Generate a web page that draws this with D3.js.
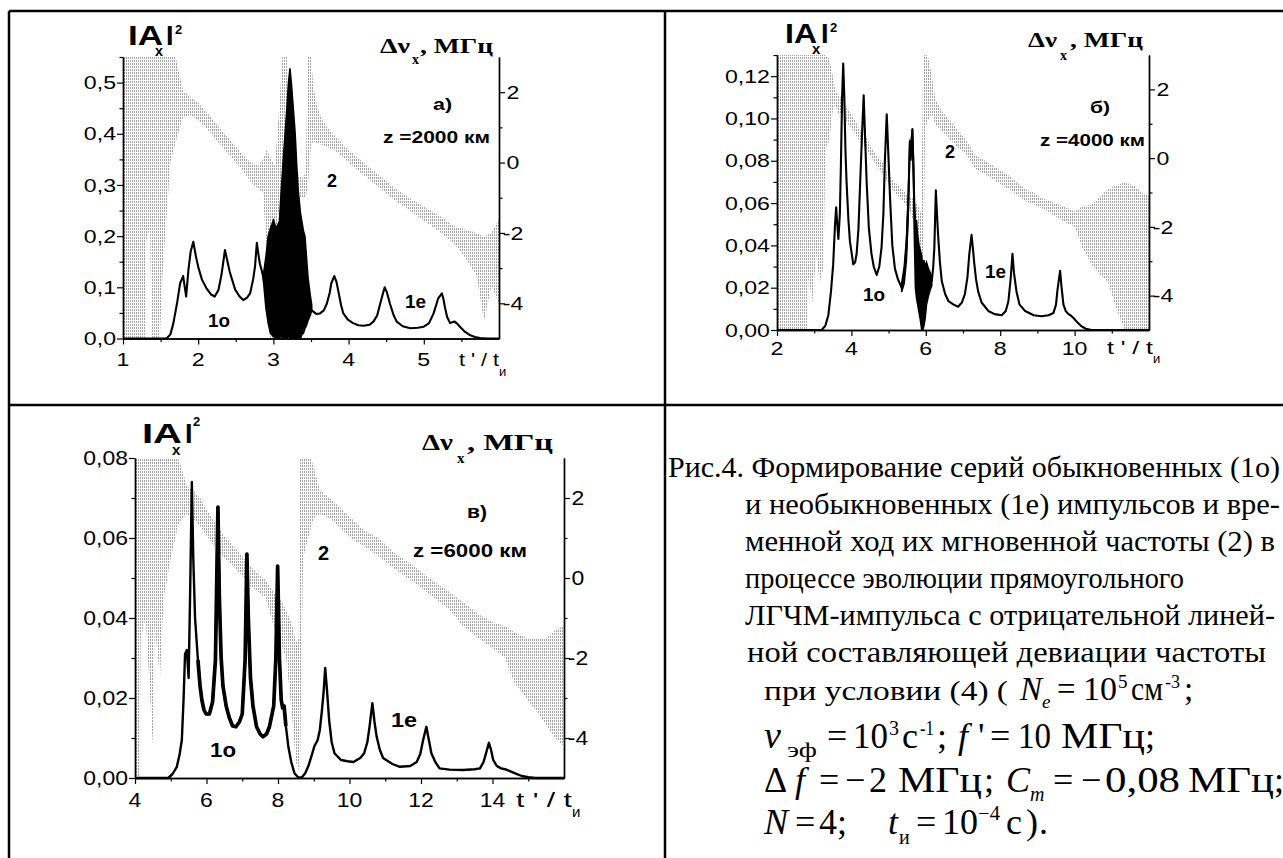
<!DOCTYPE html>
<html>
<head>
<meta charset="utf-8">
<script src="https://cdn.jsdelivr.net/npm/d3@7/dist/d3.min.js"></script>
<style>
  body { margin: 0; background: #fff; }
  svg { display: block; }
</style>
</head>
<body>
<svg id="fig" width="1283" height="858"></svg>
<script>
// |A_x|^2 curves (t'/t_и, value)
const pulseA = [
  [1.00,0],[1.58,0],[1.63,0.008],[1.67,0.03],[1.72,0.07],[1.76,0.108],[1.80,0.122],[1.84,0.082],
  [1.87,0.134],[1.90,0.17],[1.935,0.189],[1.97,0.16],[2.00,0.14],[2.05,0.115],[2.11,0.098],[2.17,0.086],
  [2.22,0.082],[2.27,0.095],[2.31,0.125],[2.356,0.173],[2.39,0.15],[2.42,0.13],[2.49,0.096],[2.55,0.082],
  [2.60,0.075],[2.65,0.08],[2.69,0.088],[2.73,0.115],[2.755,0.14],[2.78,0.187],[2.80,0.165],[2.82,0.146],
  [2.87,0.12],[2.95,0.05],[3.51,0.055],[3.57,0.048],[3.62,0.049],[3.67,0.055],[3.71,0.068],[3.75,0.09],
  [3.77,0.108],[3.81,0.122],[3.84,0.11],[3.86,0.095],[3.90,0.065],[3.93,0.049],[3.99,0.037],[4.06,0.03],
  [4.13,0.026],[4.20,0.025],[4.28,0.027],[4.33,0.033],[4.38,0.045],[4.42,0.068],[4.46,0.09],[4.48,0.10],
  [4.51,0.09],[4.55,0.068],[4.60,0.045],[4.64,0.033],[4.72,0.024],[4.82,0.02],[4.92,0.021],[5.00,0.023],
  [5.07,0.03],[5.13,0.049],[5.17,0.068],[5.19,0.078],[5.24,0.088],[5.26,0.078],[5.28,0.062],[5.31,0.042],
  [5.35,0.03],[5.38,0.032],[5.41,0.033],[5.45,0.028],[5.48,0.023],[5.54,0.014],[5.61,0.007],[5.68,0.003],
  [5.75,0.001],[5.85,0],[6.00,0]
];
// noisy stretch of curve 1 in panel а: t, low, high
const pulseBandA = [
  [2.85,0.13,0.13],[2.87,0.108,0.128],[2.90,0.06,0.16],[2.93,0.03,0.2],[2.96,0.01,0.215],[3.00,0.004,0.231],
  [3.04,0,0.215],[3.08,0,0.23],[3.10,0.005,0.28],[3.13,0,0.349],[3.16,0,0.41],[3.18,0,0.453],[3.20,0.005,0.5],
  [3.22,0,0.528],[3.24,0,0.498],[3.27,0,0.44],[3.29,0,0.40],[3.31,0,0.34],[3.33,0.002,0.29],[3.36,0,0.245],
  [3.38,0.008,0.228],[3.40,0.01,0.21],[3.42,0.02,0.2],[3.44,0.025,0.16],[3.46,0.035,0.12],[3.49,0.045,0.085],
  [3.51,0.055,0.066]
];
const pulseB = [
  [2,0],[3.2,0],[3.3,0.002],[3.38,0.007],[3.45,0.018],[3.51,0.031],[3.56,0.05],[3.59,0.058],[3.62,0.05],
  [3.65,0.043],[3.69,0.055],[3.72,0.08],[3.75,0.11],[3.78,0.126],[3.81,0.11],[3.84,0.085],[3.87,0.07],
  [3.92,0.052],[3.96,0.042],[4.05,0.031],[4.10,0.032],[4.14,0.036],[4.19,0.048],[4.23,0.067],[4.28,0.09],
  [4.33,0.111],[4.37,0.09],[4.41,0.07],[4.47,0.048],[4.54,0.036],[4.60,0.03],[4.68,0.026],[4.75,0.03],
  [4.81,0.039],[4.86,0.055],[4.90,0.08],[4.95,0.102],[5.00,0.08],[5.04,0.062],[5.10,0.04],[5.17,0.029],
  [5.25,0.024],[5.35,0.02],[5.42,0.026],[5.48,0.039],[5.53,0.06],[5.57,0.089],[5.60,0.085],[5.64,0.095],
  [5.67,0.075],[5.69,0.06],[5.75,0.03],[6.10,0.022],[6.16,0.023],[6.20,0.03],[6.23,0.039],[6.27,0.066],
  [6.30,0.055],[6.33,0.045],[6.38,0.032],[6.43,0.023],[6.52,0.017],[6.61,0.0136],[6.75,0.012],[6.87,0.011],
  [6.97,0.013],[7.05,0.017],[7.12,0.025],[7.17,0.036],[7.23,0.045],[7.27,0.038],[7.30,0.032],[7.35,0.024],
  [7.41,0.018],[7.50,0.013],[7.68,0.009],[7.85,0.0075],[8.04,0.007],[8.15,0.009],[8.22,0.0136],[8.28,0.024],
  [8.33,0.036],[8.37,0.027],[8.44,0.018],[8.52,0.012],[8.67,0.009],[8.90,0.007],[9.11,0.0065],[9.30,0.007],
  [9.43,0.008],[9.50,0.012],[9.54,0.019],[9.61,0.028],[9.65,0.02],[9.70,0.012],[9.76,0.009],[9.83,0.0076],
  [9.90,0.0068],[9.97,0.0057],[10.08,0.0035],[10.19,0.0017],[10.30,0.0006],[10.46,0],[12,0]
];
const pulseBandB = [
  [5.35,0.018,0.022],[5.42,0.022,0.03],[5.48,0.033,0.043],[5.53,0.055,0.065],[5.57,0.085,0.089],
  [5.60,0.08,0.088],[5.64,0.09,0.095],[5.67,0.07,0.08],[5.69,0.045,0.06],[5.72,0.02,0.05],[5.75,0.015,0.052],
  [5.78,0.012,0.045],[5.82,0.008,0.04],[5.85,0.005,0.038],[5.89,0,0.035],[5.92,0,0.03],[5.95,0.002,0.033],
  [5.98,0.005,0.03],[6.02,0.012,0.032],[6.07,0.016,0.029],[6.12,0.019,0.027],[6.16,0.021,0.025]
];
const pulseC = [
  [4,0],[4.93,0],[5.05,0.001],[5.17,0.0028],[5.25,0.006],[5.31,0.0095],[5.36,0.02],[5.40,0.031],[5.45,0.032],
  [5.50,0.025],[5.54,0.045],[5.59,0.074],[5.63,0.055],[5.68,0.04],[5.76,0.0295],[5.82,0.023],[5.87,0.0195],
  [5.93,0.017],[5.99,0.016],[6.08,0.016],[6.17,0.019],[6.25,0.0295],[6.32,0.0677],[6.36,0.045],[6.41,0.03],
  [6.46,0.023],[6.55,0.018],[6.64,0.015],[6.73,0.013],[6.82,0.0128],[6.92,0.014],[7.00,0.016],[7.08,0.0295],
  [7.13,0.056],[7.17,0.04],[7.23,0.025],[7.30,0.018],[7.40,0.0128],[7.50,0.011],[7.58,0.0103],[7.68,0.011],
  [7.76,0.0128],[7.88,0.018],[7.94,0.03],[7.99,0.053],[8.04,0.03],[8.09,0.0195],[8.13,0.0175],[8.17,0.018],
  [8.22,0.013],[8.29,0.0078],[8.37,0.004],[8.46,0.0012],[8.58,0],[8.68,0.0003],[8.76,0.0012],[8.85,0.003],
  [8.93,0.0053],[9.02,0.008],[9.11,0.0095],[9.17,0.012],[9.23,0.017],[9.28,0.022],[9.32,0.0275],[9.37,0.022],
  [9.43,0.0145],[9.50,0.009],[9.58,0.0062],[9.76,0.0045],[9.95,0.0042],[10.11,0.004],[10.30,0.005],
  [10.41,0.0062],[10.50,0.009],[10.56,0.0128],[10.64,0.0187],[10.70,0.014],[10.76,0.0103],[10.85,0.007],
  [10.94,0.005],[11.20,0.0035],[11.41,0.0028],[11.70,0.003],[11.88,0.004],[11.98,0.006],[12.06,0.0095],
  [12.15,0.0128],[12.22,0.0095],[12.29,0.0062],[12.40,0.004],[12.52,0.0024],[12.80,0.0021],[13.17,0.002],
  [13.50,0.0022],[13.65,0.0024],[13.75,0.004],[13.82,0.0062],[13.90,0.0088],[13.96,0.007],[14.02,0.0045],
  [14.12,0.003],[14.24,0.0024],[14.35,0.0022],[14.47,0.0018],[14.65,0.0011],[14.82,0.0005],[15.00,0.0002],
  [15.20,0],[16,0]
];

// instantaneous frequency Δν_x, MHz (curve 2): t, low, high of the noisy trace
const freqA = [
  [1.00,-5,3],[1.29,-5,3],[1.31,-2.2,3],[1.36,-1.8,3],[1.38,-5,3],[1.49,-5,3],[1.53,-3.0,3],[1.58,-1.5,3],
  [1.63,0,3],[1.70,0.6,3],[1.76,1.0,2.4],[1.80,1.3,2.05],
  [1.90,1.35,1.85],[2.00,1.2,1.7],[2.10,1.0,1.45],[2.20,0.75,1.2],[2.30,0.5,0.95],[2.40,0.25,0.7],[2.50,0,0.45],
  [2.60,-0.25,0.2],[2.70,-0.55,0],[2.80,-0.75,-0.1],[2.86,-0.85,0.1],[2.91,-2.5,0.35],[2.95,-5,0.2],
  [3.02,-5,-0.1],[3.06,-1.5,1.0],[3.12,-1.2,3],[3.18,-0.8,3],[3.22,-0.8,0.5],[3.30,-0.9,-0.3],
  [3.38,-1.0,-0.45],[3.43,-1.0,-0.3],[3.46,-0.6,3],[3.50,0.5,3],[3.53,0.6,2.2],[3.58,0.55,1.6],[3.65,0.5,1.2],
  [3.75,0.4,0.9],[3.85,0.3,0.7],[4.00,0,0.35],[4.20,-0.35,0],[4.40,-0.7,-0.35],[4.60,-1.05,-0.7],
  [4.80,-1.35,-1.0],[5.00,-1.65,-1.25],[5.20,-1.95,-1.5],[5.40,-2.3,-1.8],[5.55,-2.7,-1.9],[5.70,-3.2,-2.0],
  [5.80,-4.5,-2.1],[5.90,-3.5,-2.0],[6.00,-4.0,-1.6]
];
const freqB = [
  [2.0,-5,3],[2.8,-5,3],[2.85,-3.5,3],[2.95,-4.2,3],[3.05,-2.8,3],[3.15,-3.6,3],[3.25,-3.2,3],[3.3,0.3,3],
  [3.4,0.5,2.9],[3.5,1.4,2.4],[3.56,1.55,2.0],
  [3.65,1.3,1.85],[3.74,1.3,1.75],[3.9,1.0,1.45],[4.05,0.8,1.2],[4.19,0.55,0.9],[4.4,0.25,0.6],[4.63,-0.15,0.15],
  [4.85,-0.5,-0.15],[5.08,-0.9,-0.6],[5.3,-1.15,-0.85],[5.53,-1.45,-1.1],[5.7,-1.9,-1.2],[5.8,-2.4,-1.4],
  [5.88,-3.2,-1.6],[5.93,-3.6,3],[5.98,0.8,3],[6.05,1.1,3],[6.16,1.3,2.4],[6.25,0.97,1.75],[6.43,0.8,1.36],
  [6.65,0.55,1.1],[6.87,0.3,0.8],[7.1,0.1,0.5],[7.32,-0.3,0.1],[7.55,-0.45,-0.05],[7.78,-0.6,-0.2],
  [8.0,-0.75,-0.35],[8.22,-0.9,-0.5],[8.45,-1.05,-0.7],[8.67,-1.25,-0.9],[8.9,-1.35,-1.0],[9.11,-1.45,-1.16],
  [9.35,-1.6,-1.25],[9.56,-1.74,-1.35],[9.8,-1.9,-1.45],[10.01,-2.0,-1.55],[10.2,-2.6,-1.4],[10.46,-3.1,-1.35],
  [10.7,-3.4,-1.1],[10.9,-3.6,-0.9],[11.1,-4.3,-0.8],[11.35,-5,-0.7],[11.6,-5,-0.8],[11.8,-5,-1.0],[12.0,-5,-1.1]
];
const freqC = [
  [4.0,-5,3],[4.12,-5,3],[4.16,-1.5,3],[4.3,-1.0,3],[4.4,-2.6,3],[4.5,-4.2,3],[4.55,-1.2,3],[4.7,-2.5,3],
  [4.8,-0.5,3],[5.0,0.5,3],[5.2,1.3,3],[5.35,1.5,2.6],
  [5.45,1.6,2.3],[5.6,1.5,2.2],[5.82,1.3,2.0],[6.05,1.0,1.65],[6.29,0.7,1.3],[6.5,0.5,1.05],[6.75,0.3,0.8],
  [7.0,0.05,0.55],[7.22,-0.2,0.3],[7.45,-0.35,0.1],[7.65,-0.5,-0.05],[7.88,-1.2,-0.35],[8.05,-1.6,-0.5],
  [8.23,-2.0,-0.8],[8.4,-3.5,-1.2],[8.5,-4.6,-1.6],[8.58,-4.8,-1.5],[8.62,-4.5,3],[8.7,0.5,3],[8.9,1.2,3],
  [9.0,1.5,2.8],[9.17,1.6,2.2],[9.45,1.5,2.0],[9.8,1.2,1.7],[10.1,0.95,1.45],[10.4,0.8,1.2],[10.8,0.55,1.0],
  [11.3,0.2,0.6],[11.8,-0.1,0.3],[12.3,-0.45,-0.05],[12.8,-0.8,-0.35],[13.17,-1.2,-0.6],[13.6,-1.5,-0.9],
  [14.0,-1.75,-1.1],[14.35,-2.0,-1.2],[14.6,-2.6,-1.35],[14.94,-3.0,-1.5],[15.2,-3.3,-1.5],[15.52,-3.7,-1.5],
  [15.75,-4.0,-1.3],[16.0,-4.2,-1.2]
];

// ticks
const xTicksA = [1, 2, 3, 4, 5];
const xMinorA = [1.5, 2.5, 3.5, 4.5, 5.5];
const yTicksA = [0, 0.1, 0.2, 0.3, 0.4, 0.5];
const yMinorA = [0.05, 0.15, 0.25, 0.35, 0.45, 0.55];
const xTicksB = [2, 4, 6, 8, 10];
const xMinorB = [3, 5, 7, 9, 11];
const yTicksB = [0, 0.02, 0.04, 0.06, 0.08, 0.10, 0.12];
const yMinorB = [0.01, 0.03, 0.05, 0.07, 0.09, 0.11, 0.13];
const xTicksC = [4, 6, 8, 10, 12, 14];
const xMinorC = [5, 7, 9, 11, 13, 15];
const yTicksC = [0, 0.02, 0.04, 0.06, 0.08];
const yMinorC = [0.01, 0.03, 0.05, 0.07];
const freqTicks = [-4, -2, 0, 2];
const freqMinor = [-3, -1, 1];

const captionLines = [
  "Рис.4. Формирование серий обыкновенных (1о)",
  "и необыкновенных (1е) импульсов и вре-",
  "менной ход их мгновенной частоты (2) в",
  "процессе эволюции прямоугольного",
  "ЛГЧМ-импульса с отрицательной линей-",
  "ной составляющей девиации частоты"
];

const SANS = "'Liberation Sans', Arial, sans-serif";
const SERIF = "'Liberation Serif', 'Times New Roman', serif";

const fig = d3.select("#fig");
const defs = fig.append("defs");

const hatch =
  defs.append("pattern")
    .attr("id", "hatch")
    .attr("patternUnits", "userSpaceOnUse")
    .attr("width", 2)
    .attr("height", 3);

hatch.append("rect")
  .attr("width", 1)
  .attr("height", 2)
  .attr("fill", "#a2a2a2");

// table frame
fig.append("g")
  .attr("stroke", "#000")
  .attr("stroke-width", 2.5)
  .selectAll("line")
  .data([[9, 11, 1283, 11], [9, 11, 9, 858], [665, 11, 665, 858], [9, 405, 1283, 405]])
  .enter()
  .append("line")
  .attr("x1", d => d[0]).attr("y1", d => d[1])
  .attr("x2", d => d[2]).attr("y2", d => d[3]);

function put(x, y, w, size, text, o = {}) {
  const t = fig.append("text")
    .attr("x", x)
    .attr("y", y)
    .attr("font-size", size)
    .attr("font-family", o.serif ? SERIF : SANS)
    .attr("font-weight", o.bold ? "bold" : "normal")
    .attr("font-style", o.italic ? "italic" : "normal")
    .text(text);
  if (w) {
    t.attr("textLength", w).attr("lengthAdjust", "spacingAndGlyphs");
  }
  return t;
}

function label(g, x, y, text, size, anchor, k) {
  g.append("text")
    .attr("transform", `translate(${x},${y}) scale(${k},1)`)
    .attr("text-anchor", anchor)
    .attr("font-family", SANS)
    .attr("font-size", size)
    .text(text);
}

function drawPanel(p) {

  const x = d3.scaleLinear().domain(p.xDomain).range([p.left, p.right]);
  const y = d3.scaleLinear().domain(p.yDomain).range([p.bottom, p.top]);
  const yR = d3.scaleLinear().domain([-5, 3]).range([p.bottom, p.top]);

  const g = fig.append("g");

  defs.append("clipPath")
    .attr("id", "clip-" + p.name)
    .append("rect")
    .attr("x", p.left)
    .attr("y", p.top)
    .attr("width", p.right - p.left)
    .attr("height", p.bottom - p.top);

  // curve 2: frequency trace
  g.append("path")
    .datum(p.freq)
    .attr("clip-path", `url(#clip-${p.name})`)
    .attr("fill", "url(#hatch)")
    .attr(
      "d",
      d3.area()
        .x(d => x(d[0]))
        .y0(d => yR(d[1]))
        .y1(d => yR(d[2]))
    );

  // curve 1: |A_x|^2
  if (p.band) {
    g.append("path")
      .datum(p.band)
      .attr("fill", "#000")
      .attr("stroke", "#000")
      .attr("stroke-width", 1.5)
      .attr(
        "d",
        d3.area()
          .x(d => x(d[0]))
          .y0(d => y(d[1]))
          .y1(d => y(d[2]))
      );
  }

  const line =
    d3.line()
      .x(d => x(d[0]))
      .y(d => y(d[1]));

  g.append("path")
    .datum(p.pulse)
    .attr("fill", "none")
    .attr("stroke", "#000")
    .attr("stroke-width", p.lw)
    .attr("stroke-linejoin", "round")
    .attr("d", line);

  // the noisy, thicker stretch of the trace
  if (p.thick) {
    g.append("path")
      .datum(p.pulse.filter(d => d[0] >= p.thick[0] && d[0] <= p.thick[1]))
      .attr("fill", "none")
      .attr("stroke", "#000")
      .attr("stroke-width", p.lw + 1.3)
      .attr("stroke-linejoin", "round")
      .attr("d", line);
  }

  // axes
  const axes = [
    [d3.axisBottom(x).tickValues(p.xTicks).tickSize(6), `translate(0,${p.bottom})`],
    [d3.axisBottom(x).tickValues(p.xMinor).tickSize(3.5), `translate(0,${p.bottom})`],
    [d3.axisLeft(y).tickValues(p.yTicks).tickSize(6), `translate(${p.left},0)`],
    [d3.axisLeft(y).tickValues(p.yMinor).tickSize(3.5), `translate(${p.left},0)`],
    [d3.axisRight(yR).tickValues(freqTicks).tickSize(6), `translate(${p.right},0)`],
    [d3.axisRight(yR).tickValues(freqMinor).tickSize(3.5), `translate(${p.right},0)`]
  ];

  axes.forEach(([ax, tr]) => {
    g.append("g")
      .attr("transform", tr)
      .call(ax.tickSizeOuter(0).tickFormat(""))
      .call(s => s.select(".domain").attr("stroke-width", 1.4))
      .call(s => s.selectAll(".tick line").attr("stroke-width", 1.2));
  });

  const fmt = v => d3.format(p.fmt)(v).replace(".", ",");

  p.xTicks.forEach(v =>
    label(g, x(v), p.bottom + p.lblDy, String(v), p.font, "middle", p.k)
  );

  p.yTicks.forEach(v =>
    label(g, p.left - 7, y(v) + p.font * 0.36, fmt(v), p.font, "end", p.k)
  );

  freqTicks.forEach(v =>
    label(g, p.right + 14, yR(v) + p.font * 0.36, v < 0 ? "-" + Math.abs(v) : String(v), p.font, "middle", p.k)
  );
}

drawPanel({
  name: "a", left: 123, right: 499, top: 57, bottom: 338.5,
  xDomain: [1, 6], yDomain: [0, 0.55],
  xTicks: xTicksA, xMinor: xMinorA, yTicks: yTicksA, yMinor: yMinorA,
  fmt: ".1f", font: 18.5, k: 1.25, lblDy: 27, lw: 2.1,
  pulse: pulseA, band: pulseBandA, freq: freqA
});

drawPanel({
  name: "b", left: 777, right: 1149, top: 55, bottom: 330,
  xDomain: [2, 12], yDomain: [0, 0.13],
  xTicks: xTicksB, xMinor: xMinorB, yTicks: yTicksB, yMinor: yMinorB,
  fmt: ".2f", font: 18.5, k: 1.25, lblDy: 25, lw: 2.1,
  pulse: pulseB, band: pulseBandB, freq: freqB
});

drawPanel({
  name: "c", left: 135, right: 564, top: 458, bottom: 778,
  xDomain: [4, 16], yDomain: [0, 0.08],
  xTicks: xTicksC, xMinor: xMinorC, yTicks: yTicksC, yMinor: yMinorC,
  fmt: ".2f", font: 20.5, k: 1.12, lblDy: 29, lw: 2.4, thick: [5.7, 8.25],
  pulse: pulseC, band: null, freq: freqC
});

// axis titles and in-plot labels
const B = { bold: true };
const BS = { bold: true, serif: true };

// panel а
put(128, 45, 35, 27, "IA", B);
put(155, 56, 8, 15, "x", B);
put(166, 45, 0, 27, "I", B);
put(175, 34, 0, 13, "2", B);
put(380, 53, 30, 22, "Δν", BS);
put(412, 64, 0, 14, "x", BS);
put(420, 53, 73, 22, ", МГц", BS);
put(433, 110, 19, 16, "а)", B);
put(383, 143, 107, 16, "z =2000 км", B);
put(208, 327, 22, 18, "1о", B);
put(327, 187, 0, 18, "2", B);
put(405, 308, 21, 18, "1е", B);
put(459, 366, 40, 18.5, "t ' / t");
put(499, 376, 0, 13, "и");

// panel б
put(785, 43, 32, 27, "IA", B);
put(812, 54, 0, 15, "x", B);
put(821, 43, 0, 27, "I", B);
put(830, 32, 0, 13, "2", B);
put(1028, 47, 29, 22, "Δν", BS);
put(1060, 60, 0, 14, "x", BS);
put(1070, 47, 73, 22, ", МГц", BS);
put(1090, 113, 20, 16, "б)", B);
put(1040, 146, 105, 16, "z =4000 км", B);
put(863, 301, 22, 18, "1о", B);
put(945, 158, 0, 18, "2", B);
put(985, 278, 21, 18, "1е", B);
put(1107, 354, 46, 18.5, "t ' / t");
put(1153, 363, 0, 13, "и");

// panel в
put(142, 443, 40, 27, "IA", B);
put(172, 455, 0, 15, "x", B);
put(185, 443, 0, 27, "I", B);
put(193, 426, 0, 13, "2", B);
put(422, 450, 31, 24, "Δν", BS);
put(457, 463, 0, 15, "x", BS);
put(467, 450, 86, 24, ", МГц", BS);
put(467, 518, 20, 18, "в)", B);
put(413, 557, 114, 18, "z =6000 км", B);
put(210, 757, 26, 20, "1о", B);
put(318, 560, 0, 20, "2", B);
put(391, 727, 26, 20, "1е", B);
put(516, 807, 56, 20.5, "t ' / t");
put(572, 817, 0, 15, "и");

// caption
const capX = [668, 745, 745, 745, 745, 747];
const capW = [612, 535, 530, 439, 530, 519];
captionLines.forEach((s, i) =>
  put(capX[i], 477 + i * 37, capW[i], 29, s, { serif: true })
);

const S = { serif: true };
const I = { serif: true, italic: true };

// line 7
put(764, 700, 244, 27, "при условии (4) (", S);
put(1020, 700, 0, 33, "N", I);
put(1042, 708, 0, 19, "e", I);
put(1057, 700, 0, 33, "=", S);
put(1083, 700, 34, 33, "10", S);
put(1118, 688, 0, 19, "5", S);
put(1131, 700, 32, 33, "см", S);
put(1165, 688, 15, 19, "-3", S);
put(1184, 700, 0, 33, ";", S);

// line 8
put(764, 748, 0, 38, "ν", I);
put(787, 757, 30, 20, "эф", S);
put(827, 748, 0, 36, "=", S);
put(853, 748, 35, 36, "10", S);
put(889, 735, 0, 20, "3", S);
put(902, 748, 0, 36, "с", S);
put(920, 735, 14, 20, "-1", S);
put(937, 748, 0, 36, ";", S);
put(958, 748, 0, 36, "f", I);
put(978, 748, 0, 36, "'", S);
put(990, 748, 0, 36, "=", S);
put(1018, 748, 33, 36, "10", S);
put(1061, 748, 84, 36, "МГц", S);
put(1145, 748, 0, 36, ";", S);

// line 9
put(764, 792, 0, 36, "Δ", S);
put(795, 792, 0, 36, "f", I);
put(819, 792, 0, 36, "=", S);
put(845, 792, 0, 36, "−", S);
put(869, 792, 0, 36, "2", S);
put(898, 792, 84, 36, "МГц", S);
put(984, 792, 0, 36, ";", S);
put(1006, 792, 0, 36, "C", I);
put(1030, 801, 0, 20, "m", I);
put(1053, 792, 0, 36, "=", S);
put(1081, 792, 0, 36, "−", S);
put(1105, 792, 75, 36, "0,08", S);
put(1188, 792, 86, 36, "МГц", S);
put(1274, 792, 0, 36, ";", S);

// line 10
put(764, 834, 0, 36, "N", I);
put(795, 834, 0, 36, "=", S);
put(819, 834, 0, 36, "4", S);
put(837, 834, 0, 36, ";", S);
put(888, 834, 0, 36, "t", I);
put(899, 844, 0, 20, "и", S);
put(916, 834, 0, 36, "=", S);
put(942, 834, 36, 36, "10", S);
put(978, 820, 22, 20, "−4", S);
put(1006, 834, 0, 36, "с", S);
put(1026, 834, 0, 36, ")", S);
put(1039, 834, 0, 36, ".", S);
</script>
</body>
</html>
